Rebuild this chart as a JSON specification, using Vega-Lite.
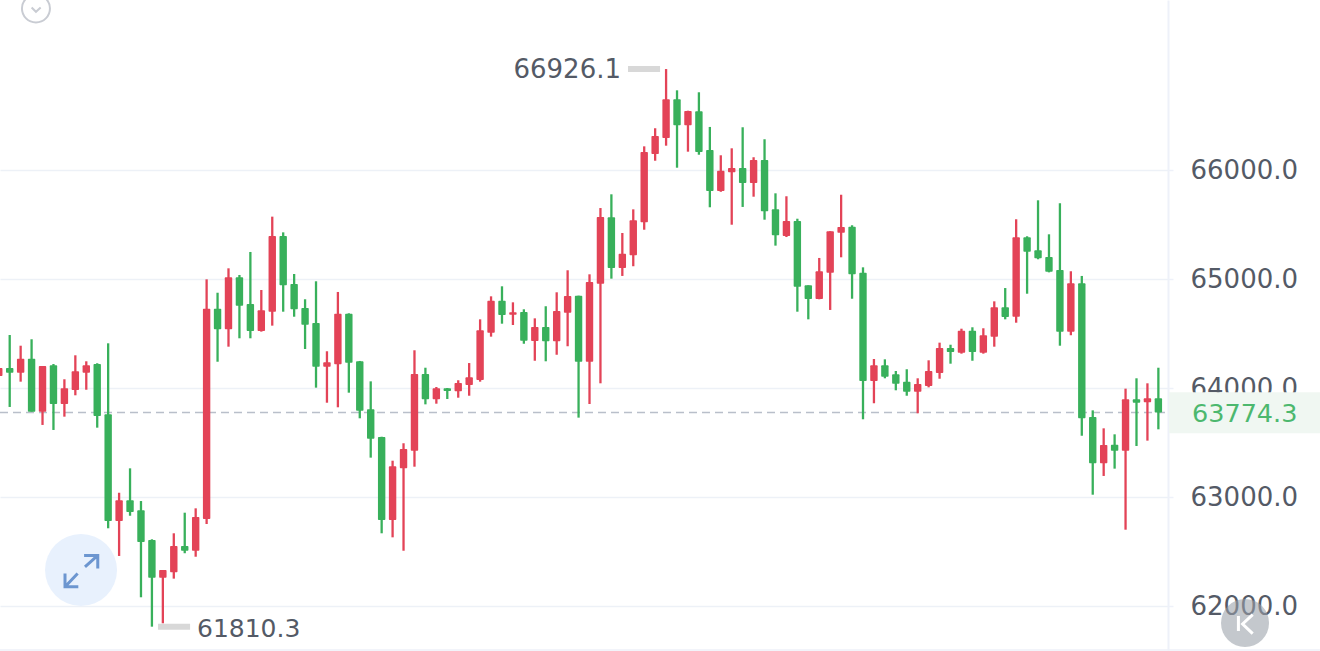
{"$schema":"https://vega.github.io/schema/vega-lite/v6.json","width":1168,"height":650,"autosize":"none","padding":{"left":0,"top":0,"right":152,"bottom":1},"background":"#ffffff","view":{"stroke":null},
"datasets":{"candles":[
{"i":0,"dir":"up","open":64110,"high":64193,"low":64100,"close":64183},
{"i":1,"dir":"down","open":64183,"high":64486,"low":63826,"close":64140},
{"i":2,"dir":"up","open":64140,"high":64388,"low":64058,"close":64269},
{"i":3,"dir":"down","open":64269,"high":64447,"low":63783,"close":63783},
{"i":4,"dir":"up","open":63783,"high":64202,"low":63661,"close":64202},
{"i":5,"dir":"down","open":64208,"high":64220,"low":63615,"close":63853},
{"i":6,"dir":"up","open":63853,"high":64080,"low":63737,"close":63997},
{"i":7,"dir":"up","open":63982,"high":64300,"low":63933,"close":64153},
{"i":8,"dir":"up","open":64140,"high":64245,"low":63984,"close":64208},
{"i":9,"dir":"down","open":64220,"high":64227,"low":63636,"close":63743},
{"i":10,"dir":"down","open":63759,"high":64410,"low":62713,"close":62780},
{"i":11,"dir":"up","open":62780,"high":63039,"low":62459,"close":62970},
{"i":12,"dir":"down","open":62970,"high":63263,"low":62828,"close":62862},
{"i":13,"dir":"down","open":62878,"high":62963,"low":62080,"close":62587},
{"i":14,"dir":"down","open":62606,"high":62612,"low":61810.3,"close":62260},
{"i":15,"dir":"up","open":62260,"high":62330,"low":61841,"close":62330},
{"i":16,"dir":"up","open":62309,"high":62667,"low":62251,"close":62550},
{"i":17,"dir":"down","open":62550,"high":62856,"low":62484,"close":62507},
{"i":18,"dir":"up","open":62507,"high":62896,"low":62452,"close":62816},
{"i":19,"dir":"up","open":62798,"high":64997,"low":62752,"close":64728},
{"i":20,"dir":"down","open":64728,"high":64874,"low":64241,"close":64539},
{"i":21,"dir":"up","open":64539,"high":65098,"low":64379,"close":65016},
{"i":22,"dir":"down","open":65016,"high":65037,"low":64456,"close":64755},
{"i":23,"dir":"down","open":64771,"high":65248,"low":64456,"close":64523},
{"i":24,"dir":"up","open":64523,"high":64899,"low":64517,"close":64713},
{"i":25,"dir":"up","open":64700,"high":65572,"low":64572,"close":65395},
{"i":26,"dir":"down","open":65395,"high":65428,"low":64700,"close":64942},
{"i":27,"dir":"down","open":64954,"high":65046,"low":64654,"close":64722},
{"i":28,"dir":"down","open":64734,"high":64814,"low":64358,"close":64581},
{"i":29,"dir":"down","open":64596,"high":64979,"low":64003,"close":64195},
{"i":30,"dir":"up","open":64195,"high":64337,"low":63865,"close":64236},
{"i":31,"dir":"up","open":64217,"high":64881,"low":63823,"close":64682},
{"i":32,"dir":"down","open":64682,"high":64685,"low":63957,"close":64232},
{"i":33,"dir":"down","open":64245,"high":64248,"low":63722,"close":63792},
{"i":34,"dir":"down","open":63805,"high":64061,"low":63361,"close":63535},
{"i":35,"dir":"down","open":63550,"high":63553,"low":62667,"close":62789},
{"i":36,"dir":"up","open":62789,"high":63333,"low":62630,"close":63282},
{"i":37,"dir":"up","open":63263,"high":63493,"low":62507,"close":63440},
{"i":38,"dir":"up","open":63425,"high":64346,"low":63278,"close":64128},
{"i":39,"dir":"down","open":64128,"high":64186,"low":63850,"close":63896},
{"i":40,"dir":"up","open":63896,"high":64009,"low":63856,"close":63997},
{"i":41,"dir":"down","open":63997,"high":64000,"low":63899,"close":63972},
{"i":42,"dir":"up","open":63970,"high":64071,"low":63911,"close":64046},
{"i":43,"dir":"up","open":64028,"high":64229,"low":63929,"close":64098},
{"i":44,"dir":"up","open":64073,"high":64630,"low":64058,"close":64529},
{"i":45,"dir":"up","open":64507,"high":64841,"low":64471,"close":64801},
{"i":46,"dir":"down","open":64801,"high":64933,"low":64590,"close":64670},
{"i":47,"dir":"up","open":64672,"high":64786,"low":64578,"close":64695},
{"i":48,"dir":"down","open":64697,"high":64722,"low":64406,"close":64434},
{"i":49,"dir":"up","open":64431,"high":64639,"low":64250,"close":64560},
{"i":50,"dir":"down","open":64560,"high":64750,"low":64245,"close":64428},
{"i":51,"dir":"up","open":64428,"high":64878,"low":64305,"close":64706},
{"i":52,"dir":"up","open":64691,"high":65080,"low":64383,"close":64844},
{"i":53,"dir":"down","open":64847,"high":64847,"low":63728,"close":64241},
{"i":54,"dir":"up","open":64241,"high":65043,"low":63853,"close":64972},
{"i":55,"dir":"up","open":64957,"high":65651,"low":64043,"close":65569},
{"i":56,"dir":"down","open":65566,"high":65777,"low":65003,"close":65101},
{"i":57,"dir":"up","open":65101,"high":65422,"low":65028,"close":65232},
{"i":58,"dir":"up","open":65217,"high":65639,"low":65117,"close":65539},
{"i":59,"dir":"up","open":65520,"high":66217,"low":65452,"close":66165},
{"i":60,"dir":"up","open":66147,"high":66383,"low":66085,"close":66312},
{"i":61,"dir":"up","open":66294,"high":66926.1,"low":66223,"close":66649},
{"i":62,"dir":"down","open":66649,"high":66731,"low":66021,"close":66410},
{"i":63,"dir":"up","open":66410,"high":66544,"low":66168,"close":66541},
{"i":64,"dir":"down","open":66539,"high":66713,"low":66140,"close":66165},
{"i":65,"dir":"down","open":66184,"high":66395,"low":65658,"close":65807},
{"i":66,"dir":"up","open":65807,"high":66135,"low":65800,"close":65994},
{"i":67,"dir":"up","open":65979,"high":66199,"low":65498,"close":66018},
{"i":68,"dir":"down","open":66018,"high":66392,"low":65661,"close":65881},
{"i":69,"dir":"up","open":65881,"high":66117,"low":65755,"close":66092},
{"i":70,"dir":"down","open":66092,"high":66282,"low":65544,"close":65621},
{"i":71,"dir":"down","open":65639,"high":65786,"low":65306,"close":65401},
{"i":72,"dir":"up","open":65395,"high":65759,"low":65385,"close":65532},
{"i":73,"dir":"down","open":65532,"high":65553,"low":64700,"close":64929},
{"i":74,"dir":"down","open":64942,"high":64942,"low":64630,"close":64816},
{"i":75,"dir":"up","open":64816,"high":65193,"low":64814,"close":65071},
{"i":76,"dir":"up","open":65058,"high":65438,"low":64716,"close":65438},
{"i":77,"dir":"up","open":65425,"high":65773,"low":65199,"close":65477},
{"i":78,"dir":"down","open":65480,"high":65493,"low":64819,"close":65043},
{"i":79,"dir":"down","open":65058,"high":65107,"low":63713,"close":64064},
{"i":80,"dir":"up","open":64064,"high":64266,"low":63860,"close":64208},
{"i":81,"dir":"down","open":64208,"high":64263,"low":64089,"close":64104},
{"i":82,"dir":"down","open":64126,"high":64156,"low":63979,"close":64039},
{"i":83,"dir":"down","open":64058,"high":64172,"low":63929,"close":63966},
{"i":84,"dir":"up","open":63966,"high":64089,"low":63768,"close":64037},
{"i":85,"dir":"up","open":64018,"high":64254,"low":64006,"close":64156},
{"i":86,"dir":"up","open":64138,"high":64416,"low":64085,"close":64367},
{"i":87,"dir":"down","open":64367,"high":64397,"low":64223,"close":64330},
{"i":88,"dir":"up","open":64324,"high":64544,"low":64315,"close":64526},
{"i":89,"dir":"down","open":64526,"high":64557,"low":64250,"close":64330},
{"i":90,"dir":"up","open":64324,"high":64548,"low":64315,"close":64484},
{"i":91,"dir":"up","open":64471,"high":64795,"low":64379,"close":64740},
{"i":92,"dir":"down","open":64740,"high":64917,"low":64630,"close":64651},
{"i":93,"dir":"up","open":64654,"high":65548,"low":64599,"close":65383},
{"i":94,"dir":"down","open":65383,"high":65392,"low":64865,"close":65250},
{"i":95,"dir":"down","open":65263,"high":65722,"low":65181,"close":65190},
{"i":96,"dir":"down","open":65202,"high":65410,"low":65061,"close":65067},
{"i":97,"dir":"down","open":65082,"high":65695,"low":64388,"close":64517},
{"i":98,"dir":"up","open":64517,"high":65071,"low":64484,"close":64961},
{"i":99,"dir":"down","open":64961,"high":65028,"low":63562,"close":63722},
{"i":100,"dir":"down","open":63734,"high":63795,"low":63021,"close":63309},
{"i":101,"dir":"up","open":63309,"high":63630,"low":63193,"close":63477},
{"i":102,"dir":"down","open":63480,"high":63575,"low":63260,"close":63425},
{"i":103,"dir":"up","open":63425,"high":63994,"low":62700,"close":63896},
{"i":104,"dir":"down","open":63896,"high":64089,"low":63468,"close":63865},
{"i":105,"dir":"up","open":63869,"high":64043,"low":63517,"close":63906},
{"i":106,"dir":"down","open":63906,"high":64186,"low":63621,"close":63774.3}
]},
"config":{"axisY":{"orient":"right","title":null,"grid":true,"gridColor":"#edf1f7","gridWidth":1.5,"domainColor":"#eef1f9","domainWidth":2,"tickColor":"#eef1f9","tickSize":5,"tickWidth":1.5,"labelFont":"DejaVu Sans","labelFontSize":26,"labelColor":"#545a66","labelPadding":17,"labelOffset":1,"labelBound":false,"labelOverlap":false,"labelFlush":false}},
"encoding":{"x":{"field":"i","type":"quantitative","axis":null,"scale":{"domain":[0.1133,106.88],"nice":false,"zero":false,"padding":0}}},
"layer":[
{"data":{"values":[{"i":0.1133,"i2":106.88,"p":63774.3}]},"mark":{"type":"rule","stroke":"#b9bfca","strokeWidth":1.5,"strokeDash":[8,5]},
"encoding":{"x2":{"field":"i2"},"y":{"field":"p","type":"quantitative","scale":{"domain":[61596.3,67559.6],"nice":false,"zero":false},"axis":{"orient":"right","title":null,"values":[62000,63000,64000,65000,66000],"format":".1f"}}}},
{"data":{"name":"candles"},"mark":{"type":"rule","strokeWidth":2.3,"clip":true},
"encoding":{"y":{"field":"high","type":"quantitative","scale":{"domain":[61596.3,67559.6],"nice":false,"zero":false}},"y2":{"field":"low"},"color":{"field":"dir","type":"nominal","legend":null,"scale":{"domain":["up","down"],"range":["#e34357","#38b05b"]}}}},
{"data":{"name":"candles"},"mark":{"type":"bar","size":7.4,"cornerRadius":1,"clip":true},
"encoding":{"y":{"field":"open","type":"quantitative","scale":{"domain":[61596.3,67559.6],"nice":false,"zero":false}},"y2":{"field":"close"},"color":{"field":"dir","type":"nominal","legend":null,"scale":{"domain":["up","down"],"range":["#e34357","#38b05b"]}}}},
{"data":{"values":[{"i":57.52,"i2":60.45,"p":66926.1},{"i":14.56,"i2":17.49,"p":61810.3}]},"mark":{"type":"rule","stroke":"#d8d8d8","strokeWidth":6},
"encoding":{"x2":{"field":"i2"},"y":{"field":"p","type":"quantitative","scale":{"domain":[61596.3,67559.6],"nice":false,"zero":false}}}},
{"data":{"values":[{"i":56.88,"p":66926.1,"t":"66926.1"}]},"mark":{"type":"text","font":"DejaVu Sans","fontSize":26,"color":"#545a66","align":"right","baseline":"middle","dy":1},
"encoding":{"y":{"field":"p","type":"quantitative","scale":{"domain":[61596.3,67559.6],"nice":false,"zero":false}},"text":{"field":"t"}}},
{"data":{"values":[{"i":18.12,"p":61790,"t":"61810.3"}]},"mark":{"type":"text","font":"DejaVu Sans","fontSize":25,"color":"#545a66","align":"left","baseline":"middle"},
"encoding":{"y":{"field":"p","type":"quantitative","scale":{"domain":[61596.3,67559.6],"nice":false,"zero":false}},"text":{"field":"t"}}},
{"data":{"values":[{"i":106.97,"i2":120.77,"p":63960.6,"p2":63584.4}]},"mark":{"type":"rect","fill":"#f0f7f2"},
"encoding":{"x2":{"field":"i2"},"y":{"field":"p","type":"quantitative","scale":{"domain":[61596.3,67559.6],"nice":false,"zero":false}},"y2":{"field":"p2"}}},
{"data":{"values":[{"i":109.07,"p":63774.3,"t":"63774.3"}]},"mark":{"type":"text","font":"DejaVu Sans","fontSize":25.5,"color":"#4cb86e","align":"left","baseline":"middle","dy":1},
"encoding":{"y":{"field":"p","type":"quantitative","scale":{"domain":[61596.3,67559.6],"nice":false,"zero":false}},"text":{"field":"t"}}},
{"data":{"values":[{"i":0.1133,"i2":120.77,"p":61596.3}]},"mark":{"type":"rule","stroke":"#eef1f9","strokeWidth":1.5},
"encoding":{"x2":{"field":"i2"},"y":{"field":"p","type":"quantitative","scale":{"domain":[61596.3,67559.6],"nice":false,"zero":false}}}},
{"data":{"values":[{"i":3.40,"p":67481.6}]},"mark":{"type":"point","shape":"circle","size":784,"filled":false,"stroke":"#c9ccd3","strokeWidth":2,"opacity":1},
"encoding":{"y":{"field":"p","type":"quantitative","scale":{"domain":[61596.3,67559.6],"nice":false,"zero":false}}}},
{"data":{"values":[{"i":3.40,"p":67481.6}]},"mark":{"type":"point","shape":"M -0.62 -0.14 L 0 0.47 L 0.67 -0.14","size":196,"filled":false,"stroke":"#c9ccd3","strokeWidth":2,"opacity":1},
"encoding":{"y":{"field":"p","type":"quantitative","scale":{"domain":[61596.3,67559.6],"nice":false,"zero":false}}}},
{"data":{"values":[{"i":7.52,"p":62330.2}]},"mark":{"type":"point","shape":"circle","size":5184,"filled":true,"fill":"#e8f1fd","opacity":1},
"encoding":{"y":{"field":"p","type":"quantitative","scale":{"domain":[61596.3,67559.6],"nice":false,"zero":false}}}},
{"data":{"values":[{"i":7.52,"p":62330.2}]},"mark":{"type":"point","shape":"M 0.22 -0.18 L 0.9 -0.78 M 0.17 -0.81 L 0.93 -0.81 L 0.93 -0.09 M -0.19 0.19 L -0.86 0.9 M -0.15 0.93 L -0.89 0.93 L -0.89 0.19","size":1296,"filled":false,"stroke":"#6c96d0","strokeWidth":3,"opacity":1},
"encoding":{"y":{"field":"p","type":"quantitative","scale":{"domain":[61596.3,67559.6],"nice":false,"zero":false}}}},
{"data":{"values":[{"i":113.92,"p":61844}]},"mark":{"type":"point","shape":"circle","size":2304,"filled":true,"fill":"#9aa0a8","opacity":0.58},
"encoding":{"y":{"field":"p","type":"quantitative","scale":{"domain":[61596.3,67559.6],"nice":false,"zero":false}}}},
{"data":{"values":[{"i":113.92,"p":61844}]},"mark":{"type":"point","shape":"M -0.55 -0.58 L -0.55 0.67 M 0.64 -0.69 L -0.2 0.08 L 0.64 0.89","size":576,"filled":false,"stroke":"#ffffff","strokeWidth":3,"opacity":1},
"encoding":{"y":{"field":"p","type":"quantitative","scale":{"domain":[61596.3,67559.6],"nice":false,"zero":false}}}}
]}
